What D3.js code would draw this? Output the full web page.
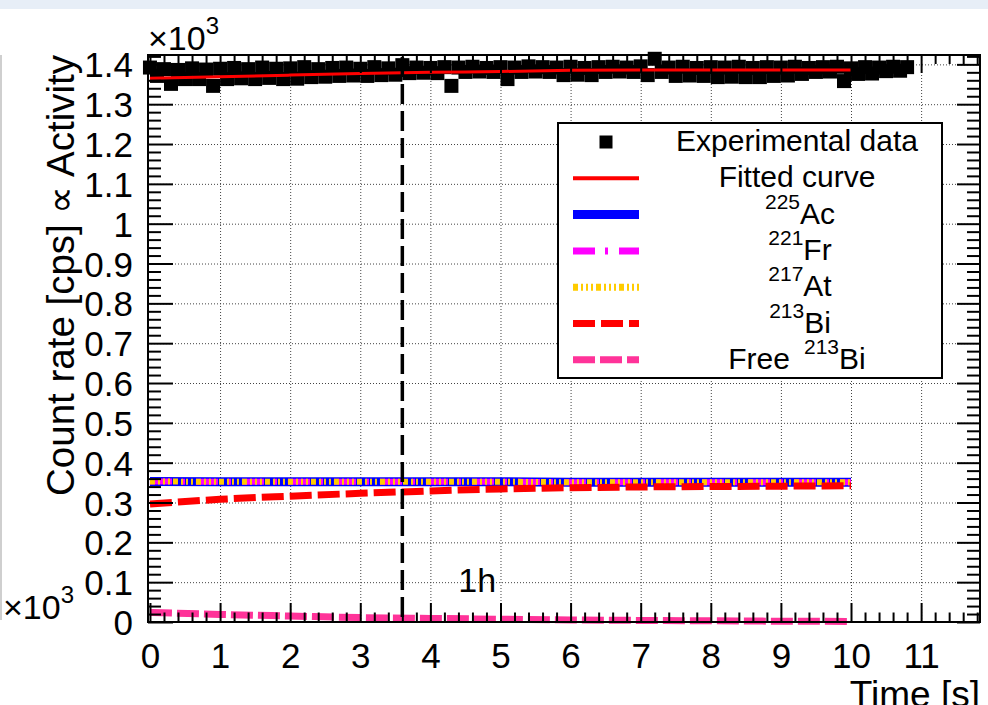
<!DOCTYPE html>
<html><head><meta charset="utf-8">
<script src="https://cdn.jsdelivr.net/npm/d3@7"></script>
<style>
html,body{margin:0;padding:0;background:#fff;}
svg{display:block;font-family:"Liberation Sans",Arial,Helvetica,sans-serif;}
</style></head><body>
<svg id="c" width="988" height="705"></svg>
<script>
// ---- data (time in 10^3 s, rate in 10^3 cps) ----
const expTime = [0.0,0.1,0.2,0.3,0.4,0.5,0.6,0.7,0.8,0.9,1.0,1.1,1.2,1.3,1.4,1.5,1.6,1.7,1.8,1.9,
  2.0,2.1,2.2,2.3,2.4,2.5,2.6,2.7,2.8,2.9,3.0,3.1,3.2,3.3,3.4,3.5,3.6,3.7,3.8,3.9,
  4.0,4.1,4.2,4.3,4.4,4.5,4.6,4.7,4.8,4.9,5.0,5.1,5.2,5.3,5.4,5.5,5.6,5.7,5.8,5.9,
  6.0,6.1,6.2,6.3,6.4,6.5,6.6,6.7,6.8,6.9,7.0,7.1,7.2,7.3,7.4,7.5,7.6,7.7,7.8,7.9,
  8.0,8.1,8.2,8.3,8.4,8.5,8.6,8.7,8.8,8.9,9.0,9.1,9.2,9.3,9.4,9.5,9.6,9.7,9.8,9.9,
  10.0,10.1,10.2,10.3,10.4,10.5,10.6,10.7,10.8];
const expRate = [1.392,1.371,1.388,1.351,1.386,1.363,1.390,1.363,1.387,1.346,
  1.389,1.363,1.391,1.365,1.388,1.363,1.392,1.366,1.389,1.363,
  1.390,1.364,1.393,1.368,1.388,1.369,1.391,1.371,1.392,1.372,
  1.389,1.371,1.393,1.373,1.390,1.374,1.398,1.378,1.392,1.379,
  1.391,1.378,1.393,1.346,1.392,1.381,1.394,1.382,1.391,1.381,
  1.393,1.363,1.392,1.381,1.395,1.382,1.393,1.381,1.392,1.373,
  1.394,1.374,1.391,1.373,1.393,1.381,1.394,1.382,1.392,1.381,
  1.395,1.373,1.414,1.381,1.392,1.371,1.394,1.372,1.391,1.371,
  1.393,1.368,1.392,1.369,1.394,1.368,1.391,1.368,1.393,1.371,
  1.392,1.372,1.394,1.376,1.391,1.381,1.393,1.382,1.394,1.358,
  1.390,1.376,1.393,1.377,1.392,1.383,1.394,1.384,1.393];
const fitTime  = [0,1,2,3,4,5,6,7,8,9,10];
const fitRate  = [1.365,1.369,1.373,1.377,1.380,1.382,1.385,1.386,1.386,1.386,1.386];
const ac225    = [0.353,0.352,0.352,0.352,0.352,0.352,0.351,0.351,0.351,0.351,0.351];
const fr221    = [0.353,0.352,0.352,0.352,0.352,0.352,0.351,0.351,0.351,0.351,0.351];
const at217    = [0.353,0.352,0.352,0.352,0.352,0.352,0.351,0.351,0.351,0.351,0.351];
const bi213    = [0.296,0.308,0.316,0.323,0.329,0.334,0.337,0.339,0.340,0.341,0.342];
const freeBi213= [0.024,0.019,0.015,0.011,0.009,0.007,0.005,0.004,0.003,0.002,0.0015];
const markerTime = 3.6; // 1 h
const xMajorTicks = [0,1,2,3,4,5,6,7,8,9,10,11];
const xTickLabels = ["0","1","2","3","4","5","6","7","8","9","10","11"];
const yMajorTicks = [0,0.1,0.2,0.3,0.4,0.5,0.6,0.7,0.8,0.9,1.0,1.1,1.2,1.3,1.4];
const yTickLabels = ["0","0.1","0.2","0.3","0.4","0.5","0.6","0.7","0.8","0.9","1","1.1","1.2","1.3","1.4"];

// ---- layout ----
const L=148,R=980,T=55,B=622;
const svg = d3.select("#c");
const x = d3.scaleLinear().domain([-0.028, 11.84]).range([L,R]);
const y = d3.scaleLinear().domain([0, 1.4235]).range([B,T]);

// page decorations
svg.append("rect").attr("x",0).attr("y",0).attr("width",988).attr("height",9).attr("fill","#e7eef7");
svg.append("line").attr("x1",1).attr("x2",1).attr("y1",55).attr("y2",620).attr("stroke","#cfcfcf").attr("stroke-width",2);

// grid
const gridStyle = g => { g.select(".domain").remove(); g.selectAll("line").attr("stroke","#444").attr("stroke-width",1).attr("stroke-dasharray","1,2"); };
svg.append("g").attr("transform",`translate(0,${B})`)
  .call(d3.axisBottom(x).tickValues(xMajorTicks.filter(v=>v>0)).tickSize(-(B-T)).tickFormat(""))
  .call(gridStyle);
svg.append("g").attr("transform",`translate(${L},0)`)
  .call(d3.axisLeft(y).tickValues(yMajorTicks.filter(v=>v>0)).tickSize(-(R-L)).tickFormat(""))
  .call(gridStyle);

// experimental data
const ms = 14;
svg.append("g").selectAll("rect").data(expTime.map((t,i)=>[t,expRate[i]])).join("rect")
  .attr("x",d=>x(d[0])-ms/2).attr("y",d=>y(d[1])-ms/2).attr("width",ms).attr("height",ms).attr("fill","#000");

// curves
const line = arr => d3.line().x((d,i)=>x(fitTime[i])).y(d=>y(d)).curve(d3.curveMonotoneX)(arr);
const curves = [
  {v:ac225, c:"#0000ff", w:9, dash:null},
  {v:fr221, c:"#ff00ff", w:6, dash:"22,10,3,11"},
  {v:at217, c:"#ffcc00", w:6, dash:"5,3,2,3,2,3,2,3"},
  {v:bi213, c:"#ff0000", w:7, dash:"22,6"},
  {v:freeBi213, c:"#ff3399", w:7, dash:"22,5"},
  {v:fitRate, c:"#ff0000", w:3, dash:null}
];
curves.forEach(cv=>{
  svg.append("path").attr("d",line(cv.v)).attr("fill","none").attr("stroke",cv.c)
    .attr("stroke-width",cv.w).attr("stroke-dasharray",cv.dash);
});

// 1h vertical line
svg.append("line").attr("x1",x(markerTime)).attr("x2",x(markerTime)).attr("y1",T+2).attr("y2",B)
  .attr("stroke","#000").attr("stroke-width",3.5).attr("stroke-dasharray","20,7");
svg.append("text").attr("x",x(markerTime)+56).attr("y",592).attr("font-size",34).text("1h");

// axes ticks
const xMinor = d3.range(-0.0, 11.81, 0.2).filter(v=>Math.abs(v-Math.round(v))>1e-6);
const yMinor = d3.range(0, 1.421, 0.02).filter(v=>Math.abs(v*10-Math.round(v*10))>1e-6);
const tickStyle = g => { g.select(".domain").remove(); g.selectAll("line").attr("stroke","#000").attr("stroke-width",2); };
// bottom
const gxb = svg.append("g").attr("transform",`translate(0,${B})`)
  .call(d3.axisBottom(x).tickValues(xMajorTicks).tickSize(-19).tickPadding(21).tickFormat((d,i)=>xTickLabels[i]))
  .call(tickStyle);
gxb.selectAll("text").attr("font-size",35).attr("font-family","Liberation Sans, Arial, sans-serif").attr("fill","#000");
svg.append("g").attr("transform",`translate(0,${B})`)
  .call(d3.axisBottom(x).tickValues(xMinor).tickSize(-9.5).tickFormat("")).call(tickStyle);
// top
svg.append("g").attr("transform",`translate(0,${T})`)
  .call(d3.axisTop(x).tickValues(xMajorTicks).tickSize(-18).tickFormat("")).call(tickStyle);
svg.append("g").attr("transform",`translate(0,${T})`)
  .call(d3.axisTop(x).tickValues(xMinor).tickSize(-9).tickFormat("")).call(tickStyle);
// left
const gyl = svg.append("g").attr("transform",`translate(${L},0)`)
  .call(d3.axisLeft(y).tickValues(yMajorTicks).tickSize(-25).tickPadding(15).tickFormat((d,i)=>yTickLabels[i]))
  .call(tickStyle);
gyl.selectAll("text").attr("font-size",35).attr("font-family","Liberation Sans, Arial, sans-serif").attr("fill","#000").attr("dy","0.36em");
svg.append("g").attr("transform",`translate(${L},0)`)
  .call(d3.axisLeft(y).tickValues(yMinor).tickSize(-13).tickFormat("")).call(tickStyle);
// right
svg.append("g").attr("transform",`translate(${R},0)`)
  .call(d3.axisRight(y).tickValues(yMajorTicks).tickSize(-23).tickFormat("")).call(tickStyle);
svg.append("g").attr("transform",`translate(${R},0)`)
  .call(d3.axisRight(y).tickValues(yMinor).tickSize(-13).tickFormat("")).call(tickStyle);

// frame
svg.append("rect").attr("x",L).attr("y",T).attr("width",R-L).attr("height",B-T)
  .attr("fill","none").attr("stroke","#000").attr("stroke-width",2);

// axis titles & multipliers
svg.append("text").attr("transform","translate(74,55) rotate(-90)").attr("text-anchor","end")
  .attr("font-size",38.5).text("Count rate [cps] \u221D Activity");
svg.append("text").attr("x",R).attr("y",707).attr("text-anchor","end").attr("font-size",37).text("Time [s]");
const m1 = svg.append("text").attr("x",148).attr("y",50).attr("font-size",34);
m1.append("tspan").text("\u00D710");
m1.append("tspan").attr("font-size",24).attr("dy",-16).text("3");
const m2 = svg.append("text").attr("x",3).attr("y",619).attr("font-size",34);
m2.append("tspan").text("\u00D710");
m2.append("tspan").attr("font-size",24).attr("dy",-16).text("3");

// legend
const legendLabels = [
  {pre:"Experimental data"},
  {pre:"Fitted curve"},
  {sup:"225", base:"Ac"},
  {sup:"221", base:"Fr"},
  {sup:"217", base:"At"},
  {sup:"213", base:"Bi"},
  {pre:"Free", sup:"213", base:"Bi"}
];
const legendStyles = [null, curves[5], curves[0], curves[1], curves[2], curves[3], curves[4]];
const lg = svg.append("g");
lg.append("rect").attr("x",558).attr("y",123).attr("width",384).attr("height",255)
  .attr("fill","#fff").attr("stroke","#000").attr("stroke-width",2);
legendLabels.forEach((lab,i)=>{
  const cy = 142 + i*36.3;
  const st = legendStyles[i];
  if (!st) {
    lg.append("rect").attr("x",606-6.5).attr("y",cy-6.5).attr("width",13).attr("height",13).attr("fill","#000");
  } else {
    lg.append("line").attr("x1",573).attr("x2",639).attr("y1",cy).attr("y2",cy)
      .attr("stroke",st.c).attr("stroke-width",st.w===3?4:(st.c==="#0000ff"?9:7)).attr("stroke-dasharray",st.dash);
  }
  const t = lg.append("text").attr("x",lab.sup && !lab.pre ? 800 : 797).attr("y",cy+9).attr("text-anchor","middle").attr("font-size",30);
  if (lab.pre) t.append("tspan").text(lab.pre);
  if (lab.sup) {
    t.append("tspan").attr("font-size",21).attr("dy",-15).attr("dx",lab.pre?14:0).text(lab.sup);
    t.append("tspan").attr("dy",15).text(lab.base);
  }
});
</script>
</body></html>
